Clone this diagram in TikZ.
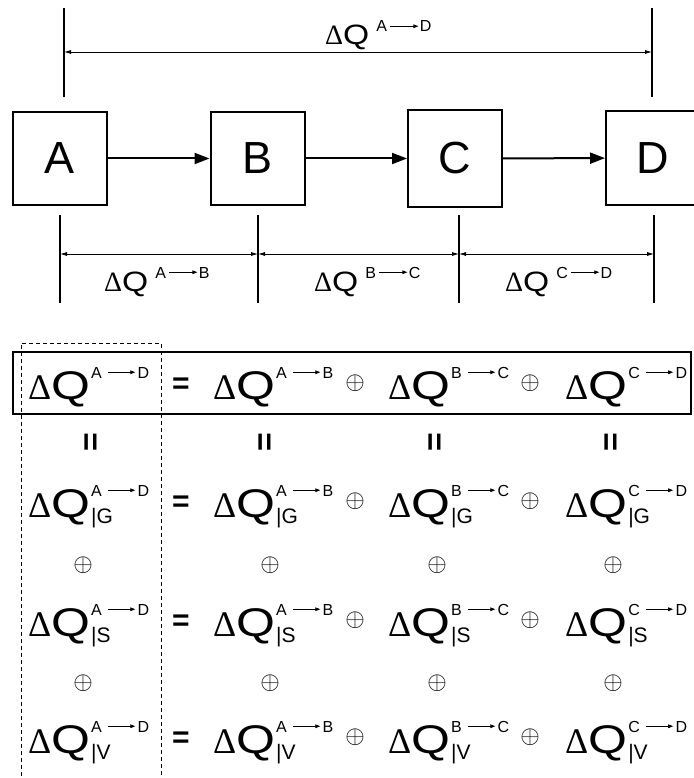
\documentclass[tikz,border=0pt]{standalone}
\usepackage{fontspec}
\usepackage{graphicx}
\setmainfont{Liberation Sans}
\newfontfamily\deltafont{Liberation Serif}
\usetikzlibrary{arrows.meta}

\newcommand\sarr[1]{\tikz[baseline=0pt,x=1pt,y=1pt]\draw[line width=0.8pt,-{Triangle[length=5pt,width=3.6pt]}] (0,0.36em)--(#1,0.36em);}
\newcommand\DQ[3]{\edef\mysubtmp{#3}{\deltafont\fontsize{36}{36}\selectfont Δ}\scalebox{1.25}[1]{\fontsize{40}{40}\selectfont Q}\makebox[0pt][l]{\hspace{1pt}\raisebox{21pt}{\fontsize{16}{16}\selectfont #1\hspace{6pt}\sarr{27}\hspace{2pt}#2}}\ifx\mysubtmp\empty\else\hspace{1pt}\raisebox{-6pt}{\fontsize{21}{21}\selectfont|\mysubtmp}\fi}
\newcommand\DL[2]{{\deltafont\fontsize{28}{28}\selectfont Δ}\scalebox{1.2}[1]{\fontsize{28}{28}\selectfont Q}\hspace{7pt}\raisebox{13pt}{\fontsize{16}{16}\selectfont #1\hspace{3pt}\sarr{28}\hspace{1pt}#2}}
\newcommand\opl{\scalebox{2.5}{$\oplus$}}

\begin{document}
\begin{tikzpicture}[x=1pt,y=-1pt,
  box/.style={draw,line width=2pt,minimum width=94pt,minimum height=93pt,inner sep=0pt,font=\fontsize{45}{45}\selectfont},
  flow/.style={line width=2pt,-{Triangle[length=15pt,width=11pt]}},
  tick/.style={line width=1.1pt},
  dim/.style={line width=0.8pt,{Latex[length=7pt,width=4pt]}-{Latex[length=7pt,width=4pt]}},
  entry/.style={anchor=base west,inner sep=0pt},
  eqs/.style={inner sep=0pt,font=\bfseries\fontsize{30}{30}\selectfont},
  veq/.style={inner sep=0pt,rotate=90,font=\bfseries\fontsize{32}{32}\selectfont},
  op/.style={inner sep=0pt},
  lab/.style={anchor=base west,inner sep=0pt}]
\useasboundingbox (0,0) rectangle (693,778);
\fill[white] (0,0) rectangle (693,778);

% top dimension
\coordinate (ta1) at (64,8);  \coordinate (ta2) at (64,97);
\coordinate (tb1) at (652,8); \coordinate (tb2) at (652,97);
\draw[tick] (ta1) -- (ta2);
\draw[tick] (tb1) -- (tb2);
\coordinate (da) at (64,52); \coordinate (db) at (652,52);
\draw[dim] (da) -- (db);
\node[lab] (lAD) at (325,45) {\DL{A}{D}};

% boxes
\node[box] (A) at (60,158.5) {A};
\node[box] (B) at (257.5,158.5) {B};
\node[box,minimum height=96pt] (C) at (455,158.5) {C};
\node[box] (D) at (653,158) {D};
\draw[flow] (A) -- (B);
\draw[flow] (B) -- (C);
\draw[flow] (C) -- (D);

% lower dimensions
\foreach \n/\x in {1/60,2/258,3/459,4/654}{
  \coordinate (u\n) at (\x,215); \coordinate (v\n) at (\x,303);
  \coordinate (w\n) at (\x,254);
  \draw[tick] (u\n) -- (v\n);
}
\draw[dim] (w1) -- (w2);
\draw[dim] (w2) -- (w3);
\draw[dim] (w3) -- (w4);
\node[lab] (lAB) at (104,291) {\DL{A}{B}};
\node[lab] (lBC) at (314,291) {\DL{B}{C}};
\node[lab] (lCD) at (505,291) {\DL{C}{D}};

% table frames
\draw[line width=1.1pt] (13,352) rectangle (691,414);
\draw[line width=0.9pt,dash pattern=on 4pt off 3pt] (21,790) -- (21,343) -- (161,343) -- (161,790);

% rows
\foreach \r/\y/\s in {1/399/,2/517/G,3/636/S,4/753/V}{
  \node[entry] (e\r a) at (28,\y) {\DQ{A}{D}{\s}};
  \node[entry] (e\r b) at (213,\y) {\DQ{A}{B}{\s}};
  \node[entry] (e\r c) at (388,\y) {\DQ{B}{C}{\s}};
  \node[entry] (e\r d) at (565,\y) {\DQ{C}{D}{\s}};
  \node[eqs] (q\r) at (181,\y-13) {=};
  \node[op] (p\r a) at (355,\y-16) {\opl};
  \node[op] (p\r b) at (530,\y-16) {\opl};
}

% between rows
\foreach \c/\x in {a/93,b/267,c/437,d/613}{
  \node[veq] (v\c) at (\x,442) {=};
}
\foreach \c/\x in {a/83,b/270,c/437,d/613}{
  \node[op] (o1\c) at (\x,565) {\opl};
  \node[op] (o2\c) at (\x,683) {\opl};
}
\end{tikzpicture}
\end{document}
